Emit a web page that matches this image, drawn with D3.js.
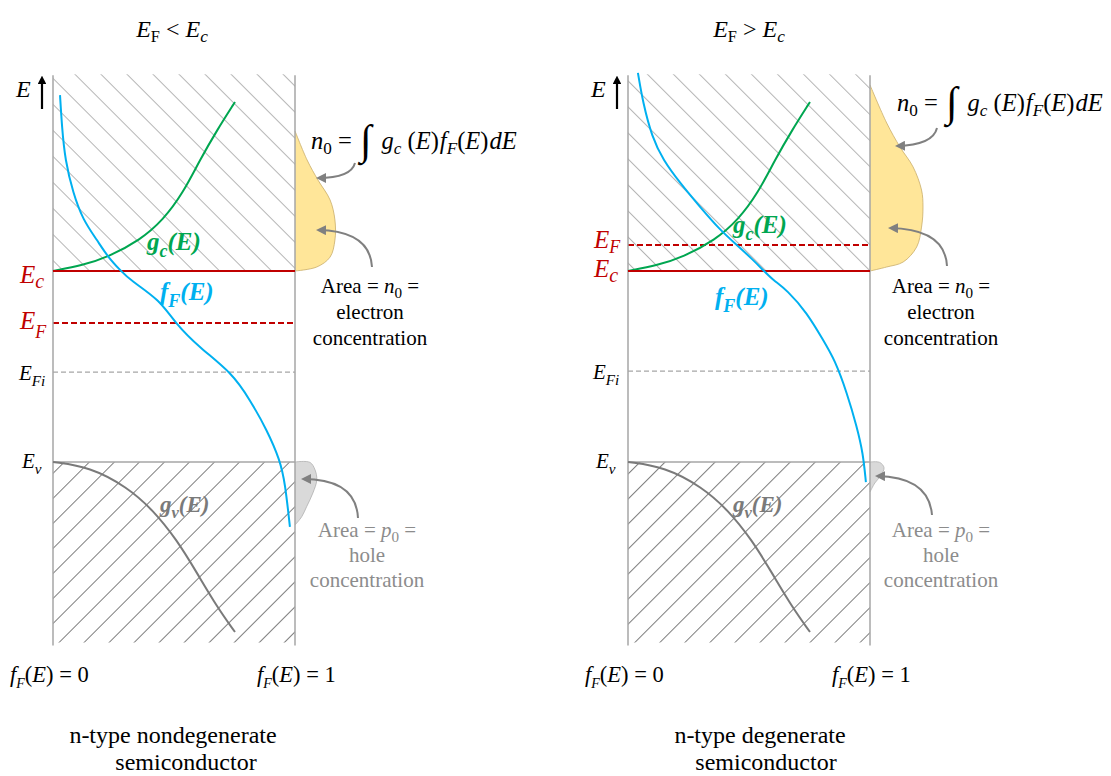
<!DOCTYPE html>
<html>
<head>
<meta charset="utf-8">
<script src="https://cdn.jsdelivr.net/npm/d3@7"></script>
<style>
  body { margin: 0; background: #fff; }
  svg { display: block; }
  text { font-family: "Liberation Serif", "Times New Roman", serif; }
</style>
</head>
<body>
<svg id="chart" width="1111" height="776"></svg>
<script>
// Energy in band units: Ec = 1, Ev = 0. Level order: Ec, EF, EFi, Ev
const levelNames = ["Ec", "EF", "EFi", "Ev"];
const nondegenerateLevels = [1.0, 0.728, 0.471, 0.0];
const degenerateLevels = [1.0, 1.136, 0.476, 0.0];
const bandTop = 2.03;
const bandBottom = -0.945;

// Fermi-Dirac occupancy, pairs of [fF, E]
const fermiNondegenerate = [
  [0.029, 1.921], [0.037, 1.754], [0.050, 1.581], [0.083, 1.408], [0.124, 1.267],
  [0.182, 1.162], [0.227, 1.073], [0.281, 1.000], [0.318, 0.953], [0.442, 0.848],
  [0.504, 0.728], [0.607, 0.597], [0.740, 0.466], [0.814, 0.325], [0.884, 0.168],
  [0.938, 0.010], [0.959, -0.110], [0.979, -0.340]
];
const fermiDegenerate = [
  [0.041, 2.037], [0.062, 1.880], [0.099, 1.702], [0.145, 1.581], [0.215, 1.461],
  [0.298, 1.335], [0.380, 1.215], [0.450, 1.136], [0.517, 1.058], [0.558, 1.005],
  [0.599, 0.953], [0.657, 0.901], [0.740, 0.780], [0.806, 0.639], [0.855, 0.534],
  [0.905, 0.361], [0.946, 0.183], [0.971, 0.047], [0.983, -0.105]
];

// Density of states in the conduction and valence bands, pairs of [g, E]
const conductionDOS = [
  [0.000, 1.000], [0.124, 1.031], [0.227, 1.073], [0.360, 1.162], [0.455, 1.267],
  [0.537, 1.408], [0.607, 1.581], [0.678, 1.738], [0.752, 1.885]
];
const valenceDOS = [
  [0.000, 0.000], [0.153, -0.026], [0.306, -0.131], [0.413, -0.251], [0.512, -0.408],
  [0.595, -0.581], [0.678, -0.759], [0.752, -0.890]
];

// Carrier distributions drawn beyond fF = 1, pairs of [E, width]
const electronsNondegenerate = [
  [1.733, 0.000], [1.581, 0.050], [1.476, 0.095], [1.372, 0.145], [1.267, 0.165],
  [1.162, 0.165], [1.073, 0.145], [1.021, 0.090], [1.000, 0.000]
];
const electronsDegenerate = [
  [1.974, 0.000], [1.775, 0.069], [1.649, 0.124], [1.545, 0.178], [1.424, 0.213],
  [1.335, 0.219], [1.230, 0.213], [1.126, 0.193], [1.047, 0.137], [1.021, 0.069], [1.000, 0.000]
];
const holesNondegenerate = [
  [0.000, 0.000], [-0.002, 0.062], [-0.042, 0.083], [-0.094, 0.090], [-0.162, 0.074],
  [-0.234, 0.048], [-0.286, 0.028], [-0.330, 0.000]
];
const holesDegenerate = [
  [0.000, 0.000], [-0.002, 0.040], [-0.030, 0.058], [-0.070, 0.045], [-0.110, 0.020], [-0.157, 0.000]
];

const titles = ["nondegenerate", "degenerate"];

const RED = "#c00000", BLUE = "#00b0f0", GREEN = "#00a650", GREY = "#7a7a7a";

const svg = d3.select("#chart");
const defs = svg.append("defs");

function hatch(id, angle, gap, color) {
  const p = defs.append("pattern")
    .attr("id", id)
    .attr("patternUnits", "userSpaceOnUse")
    .attr("width", gap).attr("height", 20)
    .attr("patternTransform", `rotate(${angle})`);
  p.append("line").attr("x1", 0.5).attr("y1", 0).attr("x2", 0.5).attr("y2", 20)
    .attr("stroke", color).attr("stroke-width", 1);
}
hatch("hatchC", -45, 18.4, "#b5b5b5");
hatch("hatchV", 45, 17.7, "#7c7c7c");

defs.append("marker")
  .attr("id", "arrowHead")
  .attr("viewBox", "0 0 10 10")
  .attr("refX", 8).attr("refY", 5)
  .attr("markerWidth", 5).attr("markerHeight", 5)
  .attr("orient", "auto")
  .append("path").attr("d", "M0,0 L10,5 L0,10 Z").attr("fill", "#808080");

defs.append("marker")
  .attr("id", "axisHead")
  .attr("viewBox", "0 0 10 10")
  .attr("refX", 5).attr("refY", 5)
  .attr("markerWidth", 4).attr("markerHeight", 4)
  .attr("orient", "auto")
  .append("path").attr("d", "M0,0 L10,5 L0,10 Z").attr("fill", "#000");

// text with italic / subscript runs
function rich(sel, x, y, parts, size, opts = {}) {
  const t = sel.append("text")
    .attr("x", x).attr("y", y)
    .attr("font-size", size)
    .attr("text-anchor", opts.anchor || "start")
    .attr("fill", opts.fill || "#000");
  if (opts.weight) t.attr("font-weight", opts.weight);
  let shift = 0;
  parts.forEach(p => {
    const s = t.append("tspan").text(p.t);
    const target = p.sub ? size * (p.drop || 0.28) : (p.rise || 0);
    s.attr("dy", target - shift);
    shift = target;
    if (p.sub) s.attr("font-size", size * (p.scale || 0.72));
    if (p.size) s.attr("font-size", p.size);
    if (p.i) s.attr("font-style", "italic");
    if (p.dx) s.attr("dx", p.dx);
  });
  return t;
}

const panels = [
  {
    x0: 53, levels: nondegenerateLevels, fermi: fermiNondegenerate,
    electrons: electronsNondegenerate, holes: holesNondegenerate,
    title: "<", name: titles[0],
    titleX: 172, nameX: [173, 186],
    labelX: 20, ecDrop: 12, efDrop: 6, efSub: 0.36,
    fLabel: [160, 300], gcLabel: [147, 250], gvLabel: [160, 512],
    formula: [311, 149],
    arrows: ["M355,163 Q351,178 318,178", "M372,267 Q370,231 318,230", "M358,518 Q356,479 303,479"],
    areaText: [370, 293], holeText: [367, 537]
  },
  {
    x0: 628, levels: degenerateLevels, fermi: fermiDegenerate,
    electrons: electronsDegenerate, holes: holesDegenerate,
    title: ">", name: titles[1],
    titleX: 749, nameX: [760, 766],
    labelX: 594, ecDrop: 6, efDrop: 3, efSub: 0.2,
    fLabel: [715, 305], gcLabel: [733, 233], gvLabel: [733, 512],
    formula: [897, 111],
    arrows: ["M937,128 Q933,145 897,146", "M947,266 Q945,229 890,228", "M932,515 Q929,477 877,476"],
    areaText: [941, 293], holeText: [941, 537]
  }
];

const panelWidth = 242;

panels.forEach((P) => {
  const g = svg.append("g");
  const x = d3.scaleLinear().domain([0, 1]).range([P.x0, P.x0 + panelWidth]);
  const y = d3.scaleLinear().domain([0, 1]).range([462, 271]);
  const [Ec, EF, EFi, Ev] = P.levels;

  // hatched bands
  g.append("rect")
    .attr("x", x(0)).attr("y", y(bandTop))
    .attr("width", x(1) - x(0)).attr("height", y(Ec) - y(bandTop))
    .attr("fill", "url(#hatchC)");
  g.append("rect")
    .attr("x", x(0)).attr("y", y(Ev))
    .attr("width", x(1) - x(0)).attr("height", y(bandBottom) - y(Ev))
    .attr("fill", "url(#hatchV)");

  // carrier distributions
  const blob = d3.area()
    .y(d => y(d[0]))
    .x0(x(1))
    .x1(d => x(1 + d[1]))
    .curve(d3.curveCatmullRom);
  const blobEdge = d3.line()
    .y(d => y(d[0]))
    .x(d => x(1 + d[1]))
    .curve(d3.curveCatmullRom);
  g.append("path").datum(P.electrons).attr("d", blob).attr("fill", "#ffe699");
  g.append("path").datum(P.electrons).attr("d", blobEdge)
    .attr("fill", "none").attr("stroke", "#c9ad6a").attr("stroke-width", 0.8);
  g.append("path").datum(P.holes).attr("d", blob).attr("fill", "#d9d9d9");
  g.append("path").datum(P.holes).attr("d", blobEdge)
    .attr("fill", "none").attr("stroke", "#b0b0b0").attr("stroke-width", 0.8);

  // energy levels
  g.append("line").attr("x1", x(0)).attr("x2", x(1)).attr("y1", y(Ev)).attr("y2", y(Ev))
    .attr("stroke", "#a6a6a6").attr("stroke-width", 1.5);
  g.append("line").attr("x1", x(0)).attr("x2", x(1)).attr("y1", y(EFi)).attr("y2", y(EFi))
    .attr("stroke", "#a6a6a6").attr("stroke-width", 1.2).attr("stroke-dasharray", "5,3");
  g.append("line").attr("x1", x(0)).attr("x2", x(1)).attr("y1", y(EF)).attr("y2", y(EF))
    .attr("stroke", RED).attr("stroke-width", 2).attr("stroke-dasharray", "6,3");

  // fF = 0 and fF = 1 axes
  [0, 1].forEach(v => {
    g.append("line").attr("x1", x(v)).attr("x2", x(v))
      .attr("y1", y(bandTop) + 1).attr("y2", y(bandBottom) + 3)
      .attr("stroke", "#a6a6a6").attr("stroke-width", 1.5);
  });

  // curves
  const curve = d3.line().x(d => x(d[0])).y(d => y(d[1])).curve(d3.curveBasis);
  g.append("path").datum(valenceDOS).attr("d", curve)
    .attr("fill", "none").attr("stroke", GREY).attr("stroke-width", 2);
  g.append("path").datum(conductionDOS).attr("d", curve)
    .attr("fill", "none").attr("stroke", GREEN).attr("stroke-width", 2);
  g.append("line").attr("x1", x(0)).attr("x2", x(1)).attr("y1", y(Ec)).attr("y2", y(Ec))
    .attr("stroke", RED).attr("stroke-width", 2);
  g.append("path").datum(P.fermi).attr("d", curve)
    .attr("fill", "none").attr("stroke", BLUE).attr("stroke-width", 2);

  // energy axis arrow
  g.append("line").attr("x1", x(0) - 11).attr("x2", x(0) - 11).attr("y1", 109).attr("y2", 80)
    .attr("stroke", "#000").attr("stroke-width", 2.2).attr("marker-end", "url(#axisHead)");
  rich(g, x(0) - 37, 97, [{ t: "E", i: true }], 24);

  // level labels
  const lx = P.labelX;
  rich(g, lx, y(Ec) + P.ecDrop, [{ t: "E", i: true }, { t: "c", i: true, sub: true, scale: 0.8, drop: 0.2 }], 25, { fill: RED });
  rich(g, lx, y(EF) + P.efDrop, [{ t: "E", i: true }, { t: "F", i: true, sub: true, scale: 0.72, drop: P.efSub }], 25, { fill: RED });
  rich(g, lx - 1, y(EFi) + 8, [{ t: "E", i: true }, { t: "Fi", i: true, sub: true, scale: 0.72, drop: 0.3 }], 21);
  rich(g, lx + 2, y(Ev) + 6, [{ t: "E", i: true }, { t: "v", i: true, sub: true, scale: 0.72, drop: 0.3 }], 21);

  // curve labels
  rich(g, P.gcLabel[0], P.gcLabel[1], [{ t: "g", i: true }, { t: "c", i: true, sub: true }, { t: "(E)", i: true }], 25, { fill: GREEN, weight: "bold" });
  rich(g, P.fLabel[0], P.fLabel[1], [{ t: "f", i: true }, { t: "F", i: true, sub: true }, { t: "(E)", i: true }], 25, { fill: BLUE, weight: "bold" });
  rich(g, P.gvLabel[0], P.gvLabel[1], [{ t: "g", i: true }, { t: "v", i: true, sub: true }, { t: "(E)", i: true }], 23, { fill: GREY, weight: "bold" });

  // title
  rich(g, P.titleX, 37, [
    { t: "E", i: true }, { t: "F", sub: true, scale: 0.68, drop: 0.22 },
    { t: " " + P.title + " " }, { t: "E", i: true }, { t: "c", i: true, sub: true, scale: 0.72, drop: 0.22 }
  ], 24, { anchor: "middle" });

  // fF axis end labels
  [[0, x(0) - 43], [1, x(1) - 38]].forEach(([v, px]) => {
    rich(g, px, 682, [
      { t: "f", i: true }, { t: "F", i: true, sub: true, scale: 0.62, drop: 0.25 },
      { t: "(" }, { t: "E", i: true }, { t: ") = " + v }
    ], 22.5);
  });

  // formula
  rich(g, P.formula[0], P.formula[1], [
    { t: "n", i: true }, { t: "0", sub: true, scale: 0.7, drop: 0.22 },
    { t: " = " }, { t: "∫", size: 42, rise: 5, dx: 2 },
    { t: " g", i: true, dx: 4 }, { t: "c", i: true, sub: true, scale: 0.7, drop: 0.22 },
    { t: " (" }, { t: "E", i: true }, { t: ")" },
    { t: "f", i: true, dx: 1 }, { t: "F", i: true, sub: true, scale: 0.7, drop: 0.22 },
    { t: "(" }, { t: "E", i: true }, { t: ")" }, { t: "dE", i: true, dx: 1 }
  ], 24.5);

  // annotations
  P.arrows.forEach(d => {
    g.append("path").attr("d", d)
      .attr("fill", "none").attr("stroke", "#808080").attr("stroke-width", 2)
      .attr("marker-end", "url(#arrowHead)");
  });
  const [ax, ay] = P.areaText;
  rich(g, ax, ay, [{ t: "Area = " }, { t: "n", i: true }, { t: "0", sub: true, scale: 0.72, drop: 0.22 }, { t: " =" }], 21, { anchor: "middle" });
  rich(g, ax, ay + 26, [{ t: "electron" }], 21, { anchor: "middle" });
  rich(g, ax, ay + 52, [{ t: "concentration" }], 21, { anchor: "middle" });
  const [hx, hy] = P.holeText;
  const HG = "#8c8c8c";
  rich(g, hx, hy, [{ t: "Area = " }, { t: "p", i: true }, { t: "0", sub: true, scale: 0.72, drop: 0.22 }, { t: " =" }], 21, { anchor: "middle", fill: HG });
  rich(g, hx, hy + 25, [{ t: "hole" }], 21, { anchor: "middle", fill: HG });
  rich(g, hx, hy + 50, [{ t: "concentration" }], 21, { anchor: "middle", fill: HG });

  // panel caption
  rich(g, P.nameX[0], 743, [{ t: "n-type " + P.name }], 24, { anchor: "middle" });
  rich(g, P.nameX[1], 770, [{ t: "semiconductor" }], 24, { anchor: "middle" });
});
</script>
</body>
</html>
